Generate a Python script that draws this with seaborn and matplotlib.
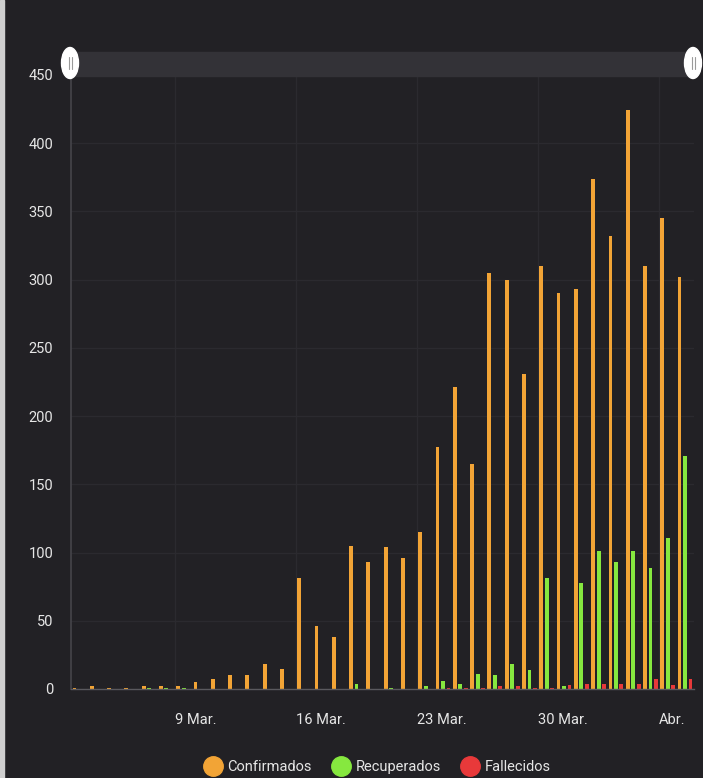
import matplotlib
matplotlib.use("Agg")
import matplotlib.pyplot as plt
import matplotlib.transforms as mtransforms
from matplotlib.patches import Rectangle, Ellipse
from matplotlib.lines import Line2D
import seaborn as sns
import pandas as pd
import numpy as np

# ---------------- data ----------------
days = pd.date_range("2020-03-03", "2020-04-07", freq="D")
day_labels = [d.strftime("%Y-%m-%d") for d in days]

confirmados = [1, 2, 1, 1, 2, 2, 2, 5, 7, 10, 10, 18, 15, 81, 46, 38, 105, 93,
               104, 96, 115, 177, 221, 165, 305, 300, 231, 310, 290, 293, 374,
               332, 424, 310, 345, 302]
recuperados = [0, 0, 0, 0, 1, 1, 1, 0, 0, 0, 0, 0, 0, 0, 0, 0, 4, 0,
               1, 0, 2, 6, 4, 11, 10, 18, 14, 81, 2, 78, 101,
               93, 101, 89, 111, 171]
fallecidos = [0, 0, 0, 0, 0, 0, 0, 0, 0, 0, 0, 0, 0, 0, 0, 0, 0, 0,
              0, 0, 0, 1, 1, 1, 2, 2, 1, 1, 3, 4, 4,
              4, 4, 7, 3, 7]

series = ["Confirmados", "Recuperados", "Fallecidos"]
colors = ["#f2a436", "#86e83f", "#e8393a"]

tick_days = ["2020-03-09", "2020-03-16", "2020-03-23", "2020-03-30", "2020-04-06"]
tick_texts = ["9 Mar.", "16 Mar.", "23 Mar.", "30 Mar.", "Abr."]
y_ticks = [0, 50, 100, 150, 200, 250, 300, 350, 400, 450]

df = pd.DataFrame({
    "dia": day_labels * 3,
    "serie": [series[0]] * len(days) + [series[1]] * len(days) + [series[2]] * len(days),
    "valor": confirmados + recuperados + fallecidos,
})

# ---------------- style ----------------
BG = "#222125"
GRID = "#2b2a2f"
TXT = "#e6e6e6"
sns.set_theme(style="dark")
plt.rcParams["font.family"] = ["Roboto", "DejaVu Sans"]

W, H = 703, 778
fig = plt.figure(figsize=(W / 100, H / 100), dpi=100, facecolor=BG)
ax = fig.add_axes([71.3 / W, (H - 689) / H, (693.7 - 71.3) / W, (689 - 75) / H])
ax.set_facecolor(BG)

sns.barplot(data=df, x="dia", y="valor", hue="serie", order=day_labels,
            hue_order=series, palette=colors, width=0.95, gap=0.3,
            saturation=1, linewidth=0, legend=False, ax=ax)

ax.set_xlim(-0.5, len(days) - 0.5)
ax.set_ylim(0, 450)
ax.set_xlabel("")
ax.set_ylabel("")

# x ticks at day boundaries
xt = [day_labels.index(d) - 0.5 for d in tick_days]
ax.set_xticks(xt)
ax.set_xticklabels(tick_texts)
off = mtransforms.ScaledTranslation(0.04, 0, fig.dpi_scale_trans)
for lab in ax.get_xticklabels():
    lab.set_ha("left")
    lab.set_transform(lab.get_transform() + off)
ax.tick_params(axis="x", length=0, pad=17, colors=TXT, labelsize=10.5)

ax.set_yticks(y_ticks)
ax.set_yticklabels([str(v) for v in y_ticks])
ax.tick_params(axis="y", length=4, width=1, color="#4a494e", pad=9,
               colors=TXT, labelsize=10.5)
for lab in ax.get_yticklabels():
    lab.set_color(TXT)
for lab in ax.get_xticklabels():
    lab.set_color(TXT)

ax.grid(True, axis="both", color=GRID, linewidth=1)
ax.set_axisbelow(True)
for s in ["top", "right"]:
    ax.spines[s].set_visible(False)
ax.spines["left"].set_color("#45444a")
ax.spines["left"].set_linewidth(1.2)
ax.spines["bottom"].set_color("#5a595e")
ax.spines["bottom"].set_linewidth(1)

# ---------------- navigator / scrollbar decoration ----------------
def fx(px):
    return px / W

def fy(py):
    return (H - py) / H

fig.patches.append(Rectangle((fx(70), fy(76)), fx(697) - fx(70), fy(52) - fy(76),
                             transform=fig.transFigure, color="#333237", zorder=0))
for cx in (70, 693):
    fig.patches.append(Ellipse((fx(cx), fy(63)), fx(17), 31 / H,
                               transform=fig.transFigure, color="white", zorder=5))
    for dx in (-1.5, 1.5):
        fig.lines.append(Line2D([fx(cx + dx), fx(cx + dx)], [fy(57), fy(69)],
                                transform=fig.transFigure, color="#9a9a9a",
                                linewidth=0.8, zorder=6))

# left light border
fig.patches.append(Rectangle((0, 0), fx(4), 1, transform=fig.transFigure,
                             color="#cfcfcf", zorder=0))

# ---------------- legend ----------------
handles = [Line2D([0], [0], marker="o", linestyle="", markersize=14,
                  markerfacecolor=c, markeredgecolor=c) for c in colors]
leg = fig.legend(handles, series, loc="center", bbox_to_anchor=(fx(378), fy(767)),
                 ncol=3, frameon=False, fontsize=10.5, labelcolor=TXT,
                 handletextpad=0.5, columnspacing=1.5, handlelength=1.0)

fig.savefig("out.png", dpi=100, facecolor=BG)
